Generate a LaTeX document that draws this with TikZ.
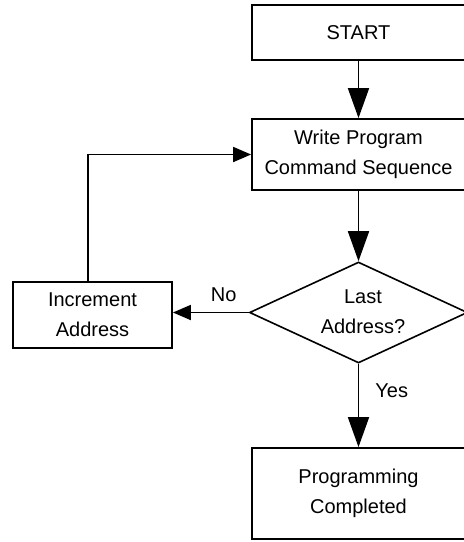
\documentclass[tikz,border=0pt]{standalone}
\usepackage{fontspec}
\setmainfont{Liberation Sans}
\usetikzlibrary{arrows.meta,shapes.geometric}
\begin{document}
\begin{tikzpicture}[x=1pt,y=-1pt,
  every node/.style={font=\fontsize{20}{30}\selectfont, align=center},
  box/.style={draw, line width=1.8pt, inner sep=0pt},
  decision/.style={draw, diamond, line width=1.6pt, inner sep=0pt, aspect=2.16,
    minimum width=218pt, minimum height=101pt},
  flow/.style={line width=1.8pt},
  vtip/.style={-{Triangle[length=30pt,width=21pt]}},
  htip/.style={-{Triangle[length=18pt,width=15pt]}},
  lbl/.style={inner sep=0pt}]
  % page frame: the right edges of the boxes run past it
  \clip (0,0) rectangle (464,542);
  \fill[white] (0,0) rectangle (464,542);

  % boxes
  \node[box, minimum width=213pt, minimum height=55pt] (start) at (358.5,32.5) {START};
  \node[box, minimum width=213pt, minimum height=71pt] (write) at (358.5,154.5)
    {Write Program\\Command Sequence};
  \node[decision] (last) at (358.5,312.5) {};
  \node[lbl] (lasttxt) at (363,312) {Last\\Address?};
  \node[box, minimum width=159pt, minimum height=66pt] (inc) at (92.5,315)
    {Increment\\Address};
  \node[box, minimum width=213pt, minimum height=91pt] (done) at (358.5,493.5)
    {Programming\\Completed};

  % connectors
  \draw[flow, vtip] (start.south) -- (write.north);
  \draw[flow, vtip] (write.south) -- (last.north);
  \draw[flow, htip] (last.west) -- (last.west -| inc.east)
    node[lbl, pos=0.33, above=10pt] (no) {No};
  \draw[flow, vtip] (last.south) -- (done.north)
    node[lbl, pos=0.32, right=16pt] (yes) {Yes};
  \draw[flow, htip] ([xshift=-4.5pt]inc.north) |- (write.west);
\end{tikzpicture}
\end{document}
